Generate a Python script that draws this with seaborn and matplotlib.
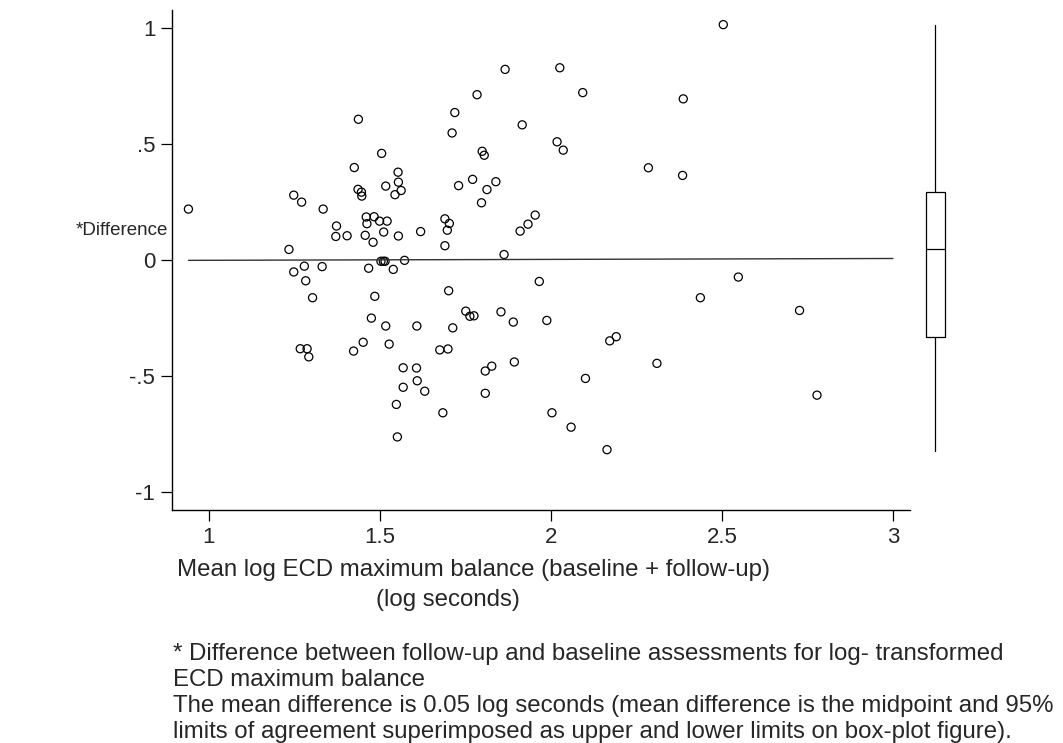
import numpy as np
import pandas as pd
import matplotlib
matplotlib.use("Agg")
import matplotlib.pyplot as plt
import seaborn as sns

# ---- data ----
mean_log = [0.940, 1.437, 1.425, 1.248, 1.271, 1.334, 1.436, 1.446, 1.447, 1.460,
            1.462, 1.457, 1.373, 1.371, 1.404, 1.234, 1.279, 1.331, 1.248, 1.467,
            1.784, 1.719, 1.916, 1.711, 2.018, 2.036, 1.505, 1.799, 1.805, 1.553,
            1.554, 1.517, 1.562, 1.544, 1.730, 1.771, 1.839, 1.813, 1.797, 1.954,
            1.933, 1.910, 1.483, 1.499, 1.521, 1.511, 1.554, 1.480, 1.619, 1.690,
            1.703, 1.697, 1.690, 1.863, 1.503, 1.510, 1.515, 1.572, 1.539, 1.866,
            2.026, 2.093, 2.387, 2.285, 2.385, 2.504, 1.283, 1.303, 1.267, 1.287,
            1.292, 1.423, 1.451, 1.485, 1.475, 1.517, 1.527, 1.568, 1.607, 1.609,
            1.568, 1.631, 1.548, 1.551, 1.684, 1.608, 1.701, 1.713, 1.675, 1.699,
            1.751, 1.763, 1.775, 1.854, 1.890, 1.808, 1.827, 1.893, 1.808, 1.966,
            1.988, 2.003, 2.437, 2.548, 2.172, 2.191, 2.310, 2.101, 2.059, 2.164,
            2.727, 2.778]
difference = [0.221, 0.608, 0.400, 0.281, 0.251, 0.221, 0.306, 0.294, 0.277, 0.187,
              0.158, 0.108, 0.148, 0.103, 0.106, 0.047, -0.025, -0.027, -0.050, -0.034,
              0.714, 0.637, 0.584, 0.549, 0.511, 0.475, 0.461, 0.470, 0.453, 0.380,
              0.337, 0.320, 0.301, 0.283, 0.322, 0.349, 0.339, 0.305, 0.248, 0.195,
              0.156, 0.126, 0.188, 0.169, 0.169, 0.122, 0.105, 0.078, 0.124, 0.179,
              0.159, 0.130, 0.063, 0.025, -0.004, -0.004, -0.004, 0.000, -0.039, 0.823,
              0.830, 0.723, 0.696, 0.399, 0.366, 1.016, -0.088, -0.161, -0.381, -0.381,
              -0.416, -0.391, -0.353, -0.155, -0.249, -0.283, -0.361, -0.463, -0.464, -0.519,
              -0.547, -0.564, -0.621, -0.761, -0.657, -0.283, -0.131, -0.291, -0.386, -0.382,
              -0.219, -0.241, -0.239, -0.222, -0.266, -0.477, -0.456, -0.438, -0.573, -0.091,
              -0.259, -0.657, -0.161, -0.072, -0.347, -0.329, -0.444, -0.509, -0.719, -0.816,
              -0.216, -0.581]

ref_line_x = [0.94, 3.0]
ref_line_y = [0.0, 0.008]

box_stats_vals = {"whislo": -0.822, "q1": -0.332, "med": 0.05, "q3": 0.294, "whishi": 1.014}

x_ticks = [1, 1.5, 2, 2.5, 3]
x_tick_labels = ["1", "1.5", "2", "2.5", "3"]
y_ticks = [-1, -0.5, 0, 0.5, 1]
y_tick_labels = ["-1", "-.5", "0", ".5", "1"]

xlabel_line1 = "Mean log ECD maximum balance (baseline + follow-up)"
xlabel_line2 = "(log seconds)"
ylabel = "*Difference"
footnote = ["* Difference between follow-up and baseline assessments for log- transformed",
            "ECD maximum balance",
            "The mean difference is 0.05 log seconds (mean difference is the midpoint and 95%",
            "limits of agreement superimposed as upper and lower limits on box-plot figure)."]

df = pd.DataFrame({"mean_log": mean_log, "difference": difference})

# ---- style ----
sns.set_style("white")
plt.rcParams["font.family"] = ["Liberation Sans", "DejaVu Sans"]

FS_TEXT = 17.3
FS_TICK = 16
FS_YLAB = 13.5

W, H = 1063, 743
fig = plt.figure(figsize=(W / 100, H / 100), dpi=100)

def fx(px):
    return px / W

def fy(py):
    return 1 - py / H

ax = fig.add_axes([fx(172), fy(510), fx(910) - fx(172), fy(10) - fy(510)])
ylim = (-1.076, 1.079)

sns.scatterplot(data=df, x="mean_log", y="difference", ax=ax, marker="o",
                s=34, facecolors="none", edgecolor="black", linewidth=0.9, legend=False)
ax.plot(ref_line_x, ref_line_y, color="#333333", linewidth=1.0)

ax.set_xlim(0.892, 3.050)
ax.set_ylim(*ylim)
ax.set_xticks(x_ticks)
ax.set_xticklabels(x_tick_labels)
ax.set_yticks(y_ticks)
ax.set_yticklabels(y_tick_labels)
ax.tick_params(axis="both", which="both", direction="out", length=8, width=0.9,
               color="black", labelsize=FS_TICK, pad=4, left=True, bottom=True)
for side in ["top", "right"]:
    ax.spines[side].set_visible(False)
for side in ["left", "bottom"]:
    ax.spines[side].set_color("black")
    ax.spines[side].set_linewidth(1.0)
ax.set_xlabel("")
ax.set_ylabel("")
ax.grid(False)

# y label (horizontal)
fig.text(fx(168), fy(230), ylabel, ha="right", va="center", fontsize=FS_YLAB)

# x label lines
fig.text(fx(177), fy(570), xlabel_line1, ha="left", va="center", fontsize=FS_TEXT)
fig.text(fx(376), fy(600), xlabel_line2, ha="left", va="center", fontsize=FS_TEXT)

# footnote (baseline positions)
for i, line in enumerate(footnote):
    fig.text(fx(173), fy(660 + i * 26), line, ha="left", va="baseline", fontsize=FS_TEXT)

# ---- box plot panel ----
bax = fig.add_axes([fx(915), fy(510), fx(955) - fx(915), fy(10) - fy(510)])
stats = [dict(box_stats_vals, label="")]
bax.bxp(stats, positions=[0], widths=0.95, showcaps=False, showfliers=False,
        boxprops=dict(color="black", linewidth=0.9),
        whiskerprops=dict(color="black", linewidth=0.9),
        medianprops=dict(color="black", linewidth=0.9))
bax.set_xlim(-1, 1)
bax.set_ylim(*ylim)
bax.axis("off")

fig.savefig("out.png", dpi=100, facecolor="white")
